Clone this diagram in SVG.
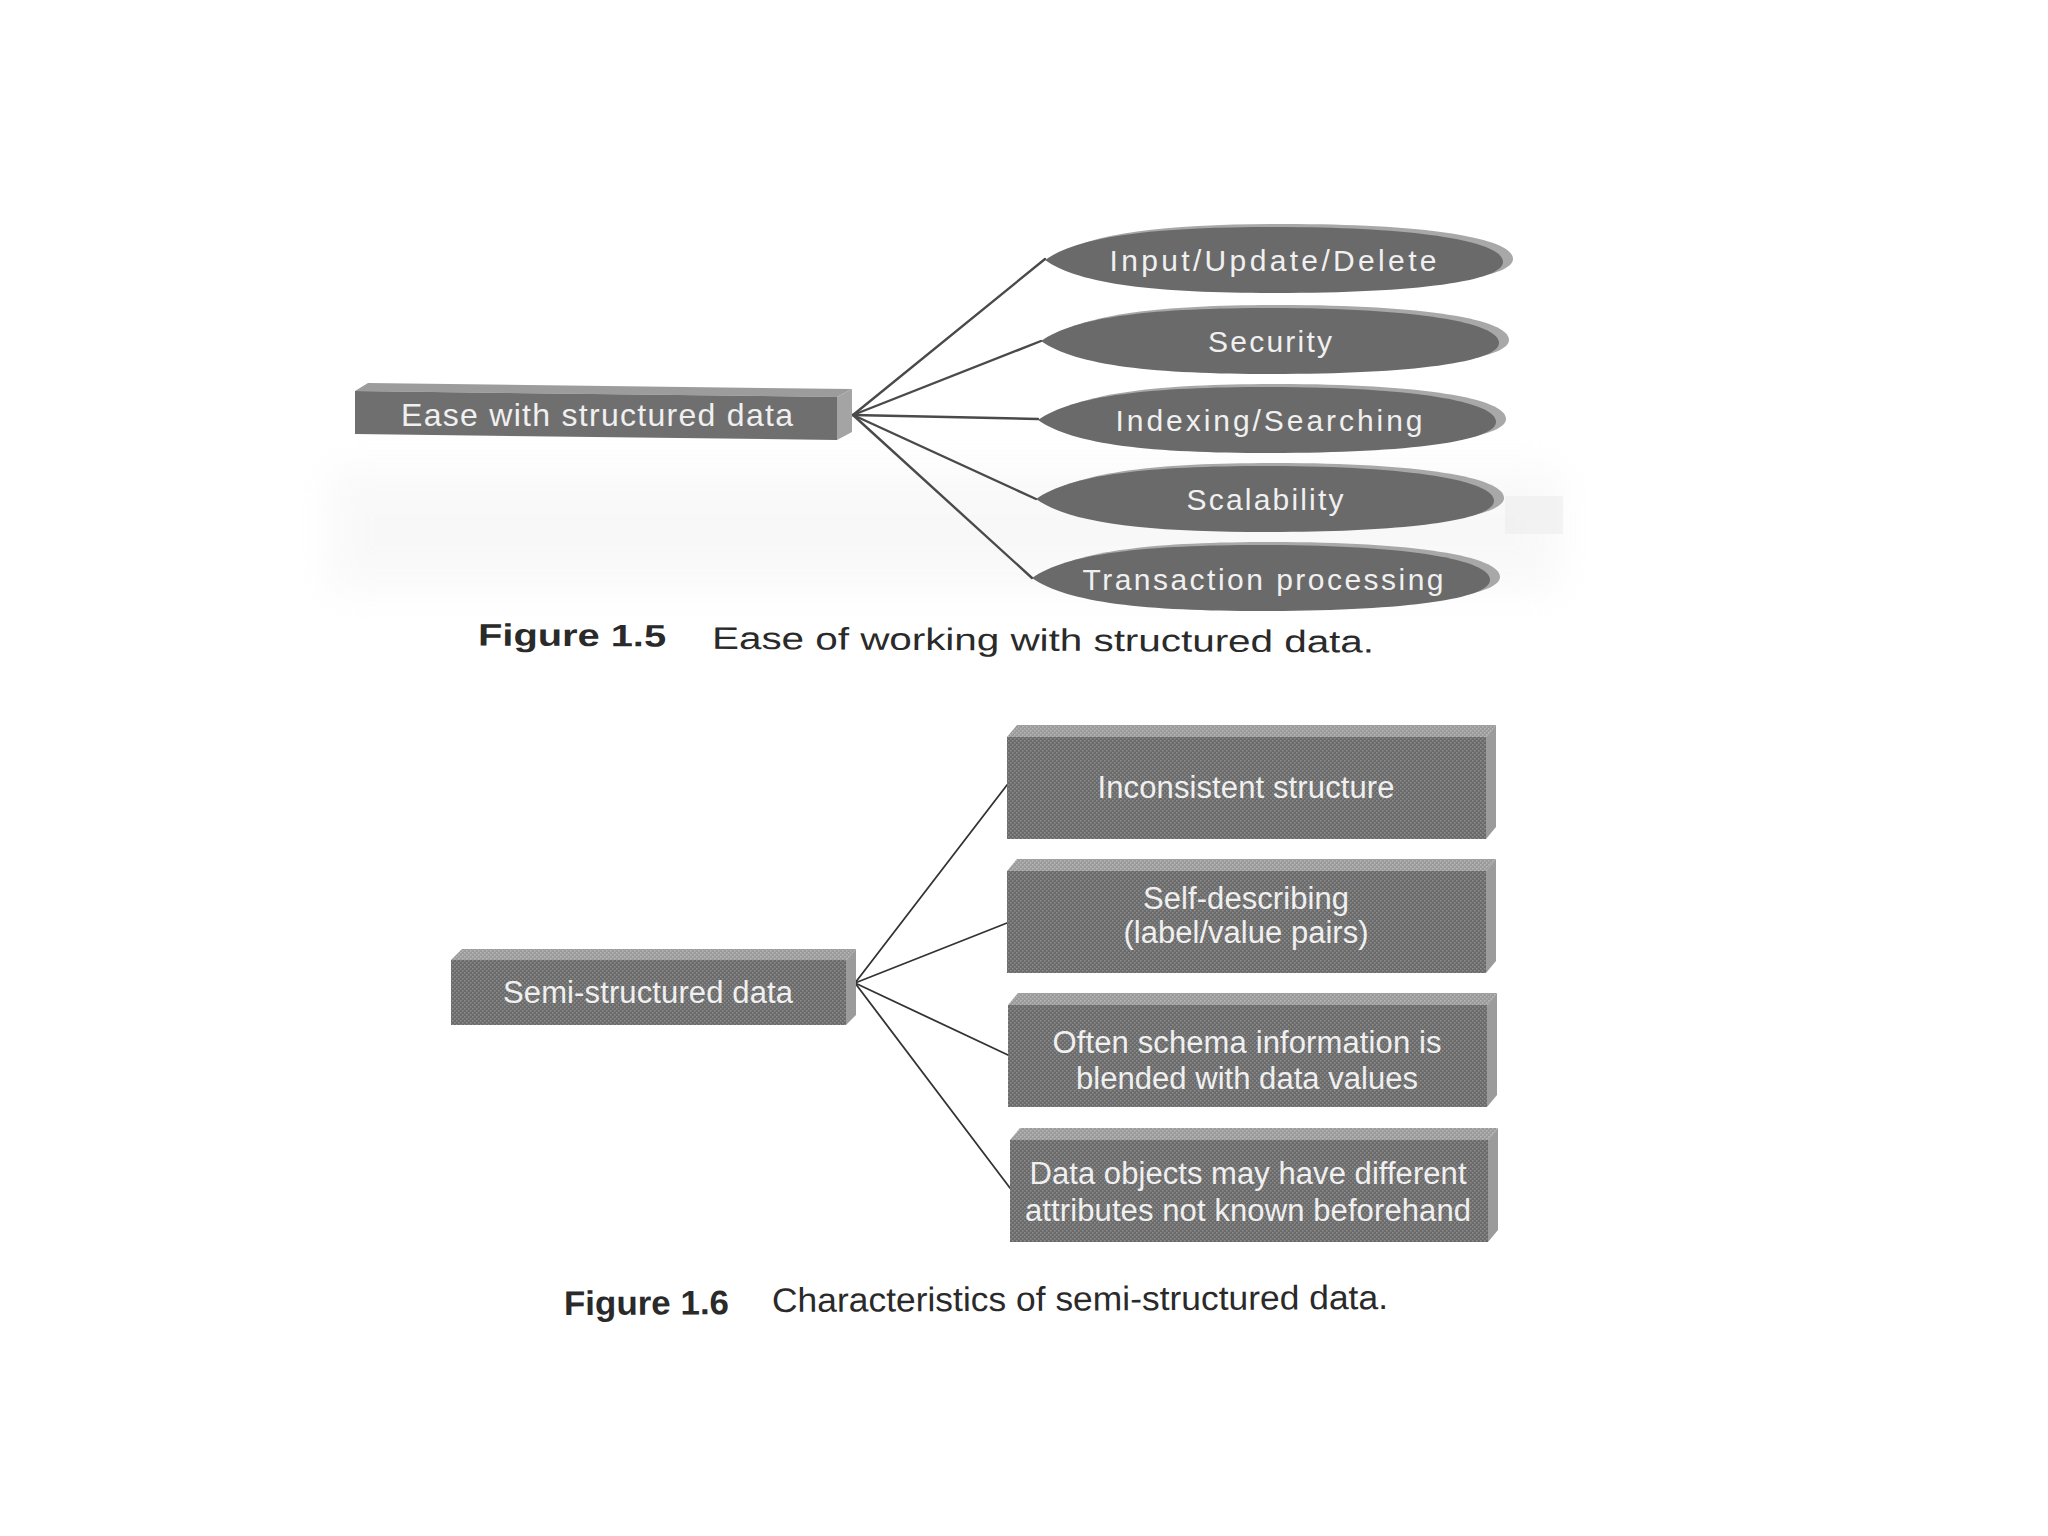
<svg xmlns="http://www.w3.org/2000/svg" width="2048" height="1536" viewBox="0 0 2048 1536">
  <defs>
    <pattern id="halftone" width="4" height="4" patternUnits="userSpaceOnUse">
      <rect width="4" height="4" fill="#6a6a6a"/>
      <rect x="0" y="0" width="1.5" height="1.5" fill="#8e8e8e"/>
      <rect x="2" y="2" width="1.5" height="1.5" fill="#8e8e8e"/>
    </pattern>
    <pattern id="halftoneLight" width="4" height="4" patternUnits="userSpaceOnUse">
      <rect width="4" height="4" fill="#9a9a9a"/>
      <rect x="0" y="0" width="1.5" height="1.5" fill="#b8b8b8"/>
      <rect x="2" y="2" width="1.5" height="1.5" fill="#b8b8b8"/>
    </pattern>
    <filter id="soft" x="-10%" y="-50%" width="120%" height="200%">
      <feGaussianBlur stdDeviation="18"/>
    </filter>
    <path id="lens" d="M0,0 C35,-25 115,-33 230,-33 C372,-33 458,-19 458,2 C458,21 372,33 230,33 C115,33 35,25 0,0 Z"/>
  </defs>
  <style>
    .bg { fill: #ffffff; }
    .face1 { fill: #6f6f6f; }
    .top1 { fill: #9c9c9c; }
    .side1 { fill: #a4a4a4; }
    .rim { fill: #a8a8a8; }
    .lensface { fill: #6a6a6a; }
    .face2 { fill: url(#halftone); }
    .top2 { fill: url(#halftoneLight); }
    .side2 { fill: #9b9b9b; }
    .lbl { font-family: "Liberation Sans", Arial, sans-serif; fill: #f0f0f0; text-anchor: middle; }
    .l15 { font-size: 30px; }
    .l16 { font-size: 31px; }
    .conn15 { stroke: #4a4a4a; stroke-width: 2.4; fill: none; stroke-linecap: round; }
    .conn16 { stroke: #333333; stroke-width: 1.8; fill: none; stroke-linecap: round; }
    .cap { font-family: "Liberation Sans", Arial, sans-serif; fill: #2a2a2a; }
    .capb { font-weight: bold; }
  </style>

  <rect class="bg" x="0" y="0" width="2048" height="1536"/>

  <!-- faint scan shading behind Figure 1.5 -->
  <rect x="330" y="470" width="1230" height="120" fill="#f1f1f1" opacity="0.45" filter="url(#soft)"/>
  <rect x="1505" y="496" width="58" height="38" fill="#ececec" opacity="0.6"/>

  <!-- ========== Figure 1.5 ========== -->
  <g id="connectors-fig15">
    <line class="conn15" x1="853" y1="415" x2="1045" y2="259"/>
    <line class="conn15" x1="853" y1="415" x2="1041" y2="341"/>
    <line class="conn15" x1="853" y1="415" x2="1038" y2="419"/>
    <line class="conn15" x1="853" y1="415" x2="1036" y2="499"/>
    <line class="conn15" x1="853" y1="415" x2="1032" y2="578"/>
  </g>

  <g id="node-ease">
    <polygon class="top1" points="355,391 368,383 852,389 837,397"/>
    <polygon class="side1" points="837,397 852,389 852,432 837,440"/>
    <polygon class="face1" points="355,391 837,397 837,440 355,434"/>
    <text class="lbl" font-size="32" x="597" y="426" textLength="392" lengthAdjust="spacing">Ease with structured data</text>
  </g>

  <g id="node-input" transform="translate(1045,260)">
    <use href="#lens" class="rim" transform="translate(10,-3)"/>
    <use href="#lens" class="lensface"/>
    <text class="lbl l15" x="228" y="11" textLength="327" lengthAdjust="spacing">Input/Update/Delete</text>
  </g>
  <g id="node-security" transform="translate(1041,341)">
    <use href="#lens" class="rim" transform="translate(10,-3)"/>
    <use href="#lens" class="lensface"/>
    <text class="lbl l15" x="229" y="11" textLength="124" lengthAdjust="spacing">Security</text>
  </g>
  <g id="node-indexing" transform="translate(1038,420)">
    <use href="#lens" class="rim" transform="translate(10,-3)"/>
    <use href="#lens" class="lensface"/>
    <text class="lbl l15" x="231" y="11" textLength="307" lengthAdjust="spacing">Indexing/Searching</text>
  </g>
  <g id="node-scalability" transform="translate(1036,499)">
    <use href="#lens" class="rim" transform="translate(10,-3)"/>
    <use href="#lens" class="lensface"/>
    <text class="lbl l15" x="229" y="11" textLength="157" lengthAdjust="spacing">Scalability</text>
  </g>
  <g id="node-transaction" transform="translate(1032,578)">
    <use href="#lens" class="rim" transform="translate(10,-3)"/>
    <use href="#lens" class="lensface"/>
    <text class="lbl l15" x="231" y="12" textLength="361" lengthAdjust="spacing">Transaction processing</text>
  </g>

  <g id="caption-fig15" transform="rotate(0.32 926 650)">
    <text class="cap capb" x="478" y="648" font-size="31" textLength="188" lengthAdjust="spacingAndGlyphs">Figure 1.5</text>
    <text class="cap" x="712" y="650" font-size="31" textLength="662" lengthAdjust="spacingAndGlyphs">Ease of working with structured data.</text>
  </g>

  <!-- ========== Figure 1.6 ========== -->
  <g id="connectors-fig16">
    <line class="conn16" x1="855" y1="983" x2="1007" y2="785"/>
    <line class="conn16" x1="855" y1="983" x2="1007" y2="923"/>
    <line class="conn16" x1="855" y1="983" x2="1008" y2="1055"/>
    <line class="conn16" x1="855" y1="983" x2="1010" y2="1188"/>
  </g>

  <g id="node-semi">
    <polygon class="top2" points="451,960 462,949 856,949 846,960"/>
    <polygon class="side2" points="846,960 856,949 856,1015 846,1025"/>
    <rect class="face2" x="451" y="960" width="395" height="65"/>
    <text class="lbl l16" x="648" y="1003" textLength="290" lengthAdjust="spacing">Semi-structured data</text>
  </g>

  <g id="node-inconsistent">
    <polygon class="top2" points="1007,737 1017,725 1496,725 1486,737"/>
    <polygon class="side2" points="1486,737 1496,725 1496,827 1486,839"/>
    <rect class="face2" x="1007" y="737" width="479" height="102"/>
    <text class="lbl l16" x="1246" y="798" textLength="297" lengthAdjust="spacing">Inconsistent structure</text>
  </g>

  <g id="node-selfdescribing">
    <polygon class="top2" points="1007,871 1017,859 1496,859 1486,871"/>
    <polygon class="side2" points="1486,871 1496,859 1496,961 1486,973"/>
    <rect class="face2" x="1007" y="871" width="479" height="102"/>
    <text class="lbl l16" x="1246" y="909" textLength="206" lengthAdjust="spacing">Self-describing</text>
    <text class="lbl l16" x="1246" y="943" textLength="245" lengthAdjust="spacing">(label/value pairs)</text>
  </g>

  <g id="node-schema">
    <polygon class="top2" points="1008,1005 1018,993 1497,993 1487,1005"/>
    <polygon class="side2" points="1487,1005 1497,993 1497,1095 1487,1107"/>
    <rect class="face2" x="1008" y="1005" width="479" height="102"/>
    <text class="lbl l16" x="1247" y="1053" textLength="389" lengthAdjust="spacing">Often schema information is</text>
    <text class="lbl l16" x="1247" y="1089" textLength="342" lengthAdjust="spacing">blended with data values</text>
  </g>

  <g id="node-objects">
    <polygon class="top2" points="1010,1140 1020,1128 1498,1128 1488,1140"/>
    <polygon class="side2" points="1488,1140 1498,1128 1498,1230 1488,1242"/>
    <rect class="face2" x="1010" y="1140" width="478" height="102"/>
    <text class="lbl l16" x="1248" y="1184" textLength="437" lengthAdjust="spacing">Data objects may have different</text>
    <text class="lbl l16" x="1248" y="1221" textLength="446" lengthAdjust="spacing">attributes not known beforehand</text>
  </g>

  <g id="caption-fig16" transform="rotate(-0.28 976 1311)">
    <text class="cap capb" x="564" y="1313" font-size="34" textLength="165" lengthAdjust="spacingAndGlyphs">Figure 1.6</text>
    <text class="cap" x="772" y="1311" font-size="34" textLength="616" lengthAdjust="spacingAndGlyphs">Characteristics of semi-structured data.</text>
  </g>
</svg>
